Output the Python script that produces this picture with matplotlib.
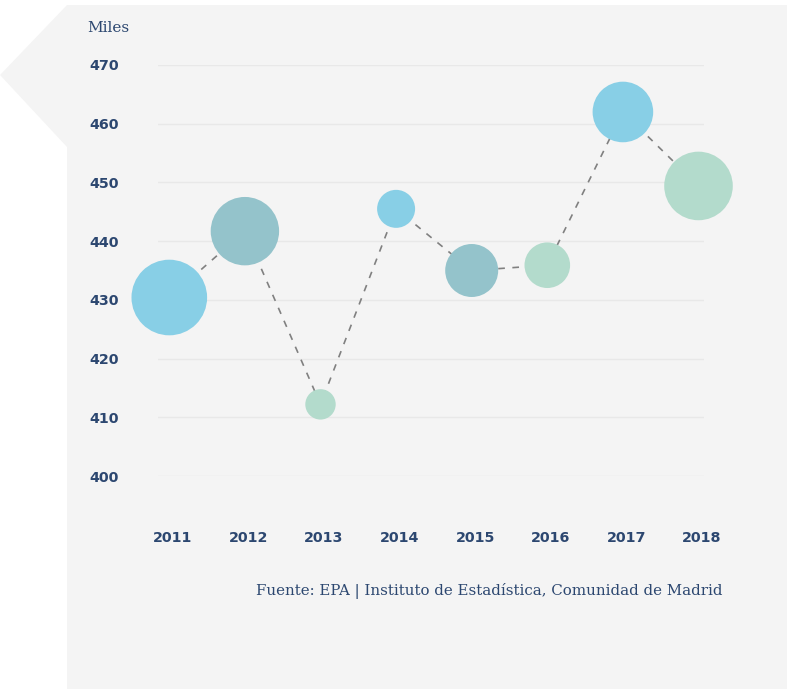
import numpy as np
import matplotlib
matplotlib.use("Agg")
import matplotlib.pyplot as plt
from matplotlib.patches import Polygon
from matplotlib import transforms

# --- datos ---
anios = [2011, 2012, 2013, 2014, 2015, 2016, 2017, 2018]
valores = [430.4, 441.7, 412.2, 445.5, 435.0, 435.9, 462.0, 449.4]  # miles
peso = [1430, 1170, 231, 361, 702, 520, 918, 1176]  # tamano relativo de burbuja
grupo = [0, 1, 2, 0, 1, 2, 0, 2]
yticks = [400, 410, 420, 430, 440, 450, 460, 470]
fuente = "Fuente: EPA | Instituto de Estadística, Comunidad de Madrid"

colores = ["#88cfe6", "#94c3cb", "#b3dbcc"]
azul = "#2c4770"

W, H = 787, 689
fig = plt.figure(figsize=(W / 100, H / 100), dpi=100, facecolor="white")

# fondo gris con flecha a la izquierda
pts = [(67, 5), (787, 5), (787, 689), (67, 689), (67, 147), (0, 75)]
poly = Polygon([(x / W, 1 - y / H) for x, y in pts], closed=True,
               transform=fig.transFigure, facecolor="#f4f4f4", edgecolor="none", zorder=-5)
fig.patches.append(poly)

ax = fig.add_axes([158 / W, 1 - 476 / H, (704 - 158) / W, (476 - 65) / H])
ax.set_facecolor("none")
ax.set_xlim(2011 - 11.3 / 75.6, 2011 + 534.7 / 75.6)
ax.set_ylim(400, 470)

ax.plot(anios, valores, color="#808080", lw=1.2, ls=(0, (4, 4.5)), zorder=2, clip_on=False)
s = np.array(peso) / 1.389**2 * 4
ax.scatter(anios, valores, s=s, c=[colores[g] for g in grupo], edgecolors="none",
           zorder=3, clip_on=False)

ax.set_yticks(yticks)
ax.set_xticks(anios)
ax.grid(axis="y", color="#e8e8e8", lw=1)
ax.set_axisbelow(True)
for sp in ax.spines.values():
    sp.set_visible(False)
ax.tick_params(length=0)
ax.tick_params(axis="y", pad=28)
ax.tick_params(axis="x", pad=39.5)
for lab in ax.get_yticklabels() + ax.get_xticklabels():
    lab.set_fontfamily("DejaVu Sans")
    lab.set_fontweight("bold")
    lab.set_fontsize(10.3)
    lab.set_color(azul)
off = transforms.ScaledTranslation(3.5 / 100, 0, fig.dpi_scale_trans)
for lab in ax.get_xticklabels():
    lab.set_transform(lab.get_transform() + off)

fig.text(87 / W, 1 - 28 / H, "Miles", family="DejaVu Serif", fontsize=11,
         color=azul, ha="left", va="center")
fig.text(723 / W, 1 - 591 / H, fuente, family="DejaVu Serif", fontsize=10.85,
         color=azul, ha="right", va="center")

fig.savefig("out.png", dpi=100, facecolor="white")
